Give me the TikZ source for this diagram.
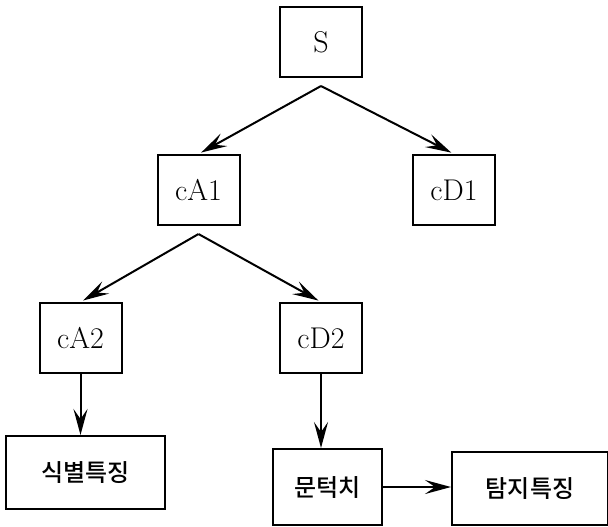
\documentclass[tikz,border=0pt]{standalone}
\usepackage{fontspec}
\usepackage{tikz}
\usetikzlibrary{arrows.meta, positioning}
\newfontfamily\krfont{Noto Sans CJK KR Medium}
\tikzstyle{box} = [rectangle, minimum width = 41, minimum height = 35, draw =
  black, text centered, font = \fontsize{15}{18}\selectfont]
\tikzstyle{krbox} = [
  rectangle,
  minimum width = 79.5, minimum height = 36.5,
  draw = black, text centered,
  font = \krfont\fontsize{12}{14}\selectfont
]
\tikzstyle{arr} = [-{Stealth[length = 13pt, width = 7pt, inset = 5pt]}]

\begin{document}
\begin{tikzpicture}[node distance = 0, line width = 1pt]
      \useasboundingbox (0pt, 0pt) rectangle (304pt, -263pt);
      % S
      \node [box] (box-s) at (160.5pt, -21pt) {S};
      % level 1
      \node [box, below of = box-s, xshift = -61.25, yshift = -74] (box-ca1) {cA1};
      \node [box, right of = box-ca1, xshift = 127.75] (box-cd1) {cD1};
      % level 2
      \node [box, below of = box-ca1, xshift = -59, yshift = -74] (box-ca2) {cA2};
      \node [box, right of = box-ca2, xshift = 120.25] (box-cd2) {cD2};
      % features
      \node [krbox, below of = box-ca2, xshift = 2.5, yshift = -67.25] (box-sik) {식별특징};
      \node [krbox, minimum width = 54.5, minimum height = 38,
        below of = box-cd2, xshift = 3.25, yshift = -74.5] (box-mun) {문턱치};
      \node [krbox, minimum width = 78, right of = box-mun, xshift = 101.25,
        yshift = -0.75] (box-tam) {탐지특징};
      % split points
      \coordinate (split-s) at ([yshift = -4pt] box-s.south);
      \coordinate (split-ca1) at ([yshift = -4pt] box-ca1.south);

      \draw [arr, shorten >= 1.5pt] (split-s) -- (box-ca1.north);
      \draw [arr, shorten >= 1.5pt] (split-s) -- (box-cd1.north);
      \draw [arr, shorten >= 1.5pt] (split-ca1) -- (box-ca2.north);
      \draw [arr, shorten >= 1.5pt] (split-ca1) -- (box-cd2.north);
      \draw [arr] (box-ca2.south) -- (box-ca2.south |- box-sik.north);
      \draw [arr] (box-cd2.south) -- (box-cd2.south |- box-mun.north);
      \draw [arr] (box-mun.east) -- (box-mun.east -| box-tam.west);
    \end{tikzpicture}
\end{document}
